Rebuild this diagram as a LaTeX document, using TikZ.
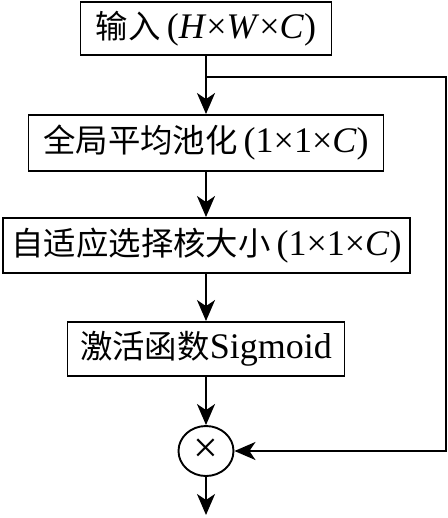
\documentclass[tikz,border=0pt]{standalone}
\usepackage{fontspec}
\setmainfont{Liberation Serif}
\newfontfamily\cjk[Scale=0.9]{Noto Sans CJK SC}
\usetikzlibrary{arrows.meta,shapes.geometric}
\begin{document}
\begin{tikzpicture}[x=1pt,y=-1pt,
  box/.style={draw,line width=1.9pt,inner sep=0pt,font=\fontsize{36}{42}\selectfont},
  conn/.style={line width=1.9pt,-{Stealth[length=21pt,width=18pt,inset=6pt]}}]
\useasboundingbox (0,0) rectangle (447,518);
\node[box,minimum width=251pt,minimum height=53pt] (in) at (206,28.5)
  {{\cjk 输入}\,(\textit{H}×\textit{W}×\textit{C})};
\node[box,minimum width=355pt,minimum height=56pt] (gap) at (206,143)
  {{\cjk 全局平均池化}\,(1×1×\textit{C})};
\node[box,minimum width=407pt,minimum height=55pt] (ak) at (206.5,245.5)
  {{\cjk 自适应选择核大小}\,(1×1×\textit{C})};
\node[box,minimum width=277pt,minimum height=54pt] (sig) at (206,349)
  {{\cjk 激活函数}Sigmoid};
\node[draw,ellipse,line width=1.9pt,inner sep=0pt,minimum width=55pt,minimum height=50pt,
  font=\fontsize{44}{48}\selectfont] (mul) at (206,451) {×};
\coordinate (b) at (206,77);
\coordinate (br) at (446,77);
\coordinate (bc) at (446,451);
\coordinate (out) at (206,515);
\draw[conn] (in.south) -- (gap.north);
\draw[conn] (gap.south) -- (gap.south |- ak.north);
\draw[conn] (ak.south -| sig.north) -- (sig.north);
\draw[conn] (sig.south) -- (mul.north);
\draw[conn] (mul.south) -- (out);
\draw[conn] (b) -- (br) -- (bc) -- (mul.east);
\end{tikzpicture}
\end{document}
